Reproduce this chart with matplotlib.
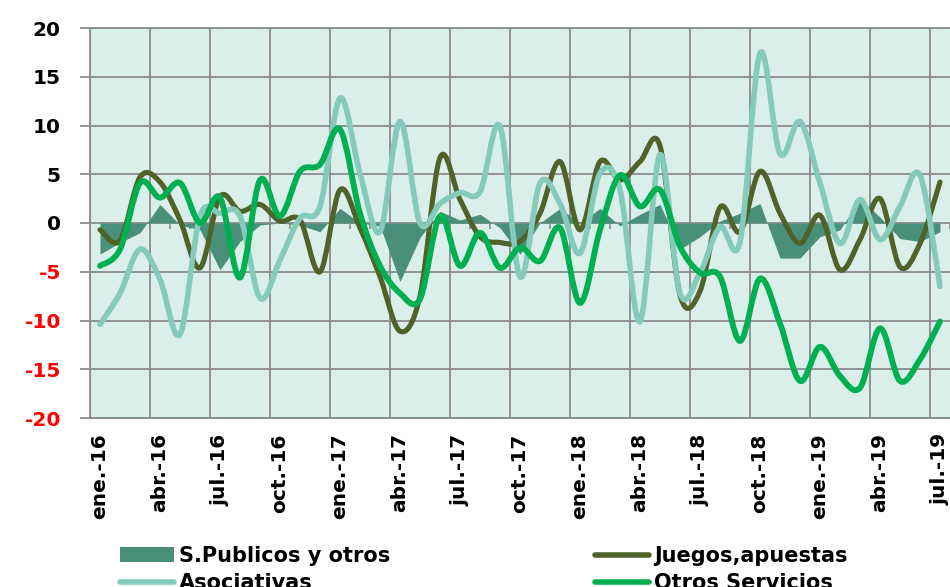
import matplotlib
matplotlib.use("Agg")
import matplotlib.pyplot as plt
from matplotlib.path import Path
from matplotlib.patches import PathPatch, Patch
from matplotlib.lines import Line2D
import numpy as np

# monthly series ene-16 .. jul-19
tick_labels = ["ene.-16", "abr.-16", "jul.-16", "oct.-16", "ene.-17", "abr.-17",
               "jul.-17", "oct.-17", "ene.-18", "abr.-18", "jul.-18", "oct.-18",
               "ene.-19", "abr.-19", "jul.-19"]

spub = [-3.2, -2.0, -1.0, 1.9, -0.2, -0.7, -4.8, -1.9, -0.2, 0.0, -0.2,
        -0.9, 1.5, 0.0, -0.3, -6.0, -1.5, 1.2, 0.3, 0.9, -0.5, -3.2,
        0.0, 1.5, 0.0, 1.5, -0.3, 0.9, 1.9, -2.7, -1.4, 0.2,
        1.0, 2.0, -3.6, -3.6, -1.4, -0.7, 2.5, 0.6, -1.6, -1.9, -0.9]
juegos = [-0.7, -1.8, 4.7, 4.2, 0.3, -4.6, 2.7, 1.2, 1.9, 0.2, 0.3,
          -5.0, 3.4, -0.5, -5.5, -11.1, -7.5, 6.7, 2.4, -1.4, -2.0, -1.9,
          1.0, 6.3, -0.7, 6.3, 4.4, 6.3, 7.9, -7.4, -7.0, 1.6,
          -0.9, 5.3, 1.0, -2.1, 0.8, -4.8, -1.7, 2.5, -4.5, -2.1, 4.2]
asoc = [-10.4, -7.2, -2.7, -5.8, -11.4, 0.7, 1.0, 0.7, -7.7, -3.8, 0.5,
        1.7, 12.8, 5.1, -0.9, 10.4, 0.0, 2.0, 3.1, 3.2, 9.9, -5.5,
        4.1, 2.0, -3.1, 5.1, 3.4, -10.1, 7.0, -7.2, -5.1, -0.4,
        -1.9, 17.4, 7.1, 10.4, 4.1, -2.1, 2.4, -1.7, 1.7, 4.9, -6.5]
otros = [-4.4, -2.7, 4.1, 2.6, 4.1, 0.0, 2.6, -5.6, 4.4, 0.7, 5.3,
         6.0, 9.6, 1.0, -4.4, -7.2, -7.8, 0.7, -4.4, -1.0, -4.6, -2.5,
         -3.9, -0.5, -8.2, -0.7, 4.9, 1.7, 3.4, -2.4, -5.1, -5.5,
         -12.1, -5.7, -10.3, -16.2, -12.7, -15.7, -16.9, -10.8, -16.2, -14.0, -10.1]

c_spub = "#4a8f7a"
c_juegos = "#4f6228"
c_asoc = "#84cbbb"
c_otros = "#00b050"
c_grid = "#8c8c8c"

months = np.arange(len(spub))


def smooth_path(x, y):
    # excel-like smoothed line: catmull-rom segments as cubic beziers
    pts = np.column_stack([x, y]).astype(float)
    n = len(pts)
    verts = [pts[0]]
    codes = [Path.MOVETO]
    for i in range(n - 1):
        p0 = pts[max(i - 1, 0)]
        p1 = pts[i]
        p2 = pts[i + 1]
        p3 = pts[min(i + 2, n - 1)]
        verts += [p1 + (p2 - p0) / 6, p2 - (p3 - p1) / 6, p2]
        codes += [Path.CURVE4] * 3
    return Path(verts, codes)


fig = plt.figure(figsize=(9.5, 5.87), dpi=100)
ax = fig.add_axes([90 / 950, 169 / 587, 860 / 950, 390 / 587])
ax.set_facecolor("#daeeea")

ax.fill_between(months, 0, spub, color=c_spub, lw=0, zorder=2)
for vals, col, lw in [(juegos, c_juegos, 3.7), (asoc, c_asoc, 4.0), (otros, c_otros, 4.2)]:
    ax.add_patch(PathPatch(smooth_path(months, vals), fill=False, edgecolor=col,
                           lw=lw, capstyle="round", joinstyle="round", zorder=3))

ax.set_xlim(-0.5, len(months) - 0.5)
ax.set_ylim(-20, 20)

# category labels every 3 months, vertical grid on group boundaries
ax.set_xticks(months[::3])
ax.set_xticklabels(tick_labels, rotation=90, fontsize=14.5, fontweight="bold",
                   va="top", ha="center")
ax.set_xticks(np.arange(-0.5, len(months), 3), minor=True)
ax.tick_params(axis="x", which="both", length=0, pad=11)
ax.xaxis.grid(True, which="minor", color=c_grid, lw=1.3)

yt = np.arange(-20, 21, 5)
ax.set_yticks(yt)
ax.set_yticklabels([str(v) for v in yt], fontsize=14.5, fontweight="bold")
for lbl, v in zip(ax.get_yticklabels(), yt):
    lbl.set_color("red" if v < 0 else "black")
ax.tick_params(axis="y", length=7, width=1.3, color=c_grid, pad=14)
ax.yaxis.grid(True, color=c_grid, lw=1.3)
ax.set_axisbelow(True)

for side in ["left", "top", "bottom"]:
    ax.spines[side].set_color(c_grid)
    ax.spines[side].set_linewidth(1.3)
ax.spines["right"].set_visible(False)

# small category ticks along the zero line
sec = ax.secondary_xaxis(0.5)
sec.set_xticks(np.arange(-0.5, len(months), 1))
sec.xaxis.set_ticks_position("bottom")
sec.tick_params(direction="out", length=4, width=1.2, color=c_grid,
                labelbottom=False, labeltop=False)
for s in sec.spines.values():
    s.set_visible(False)

# legend sits at the bottom edge, second row partly cut like the original
handles = [Patch(facecolor=c_spub, edgecolor="none"),
           Line2D([], [], color=c_asoc, lw=4, solid_capstyle="round"),
           Line2D([], [], color=c_juegos, lw=4, solid_capstyle="round"),
           Line2D([], [], color=c_otros, lw=4, solid_capstyle="round")]
names = ["S.Publicos y otros", "Asociativas", "Juegos,apuestas", "Otros Servicios"]
fig.legend(handles, names, ncol=2, loc="upper left",
           bbox_to_anchor=(120 / 950, 1 - 546 / 587), bbox_transform=fig.transFigure,
           frameon=False, prop={"weight": "bold", "size": 15},
           handlelength=2.6, handletextpad=0.25, columnspacing=9.8,
           labelspacing=0.35, borderpad=0, borderaxespad=0)

fig.savefig("out.png", dpi=100)
